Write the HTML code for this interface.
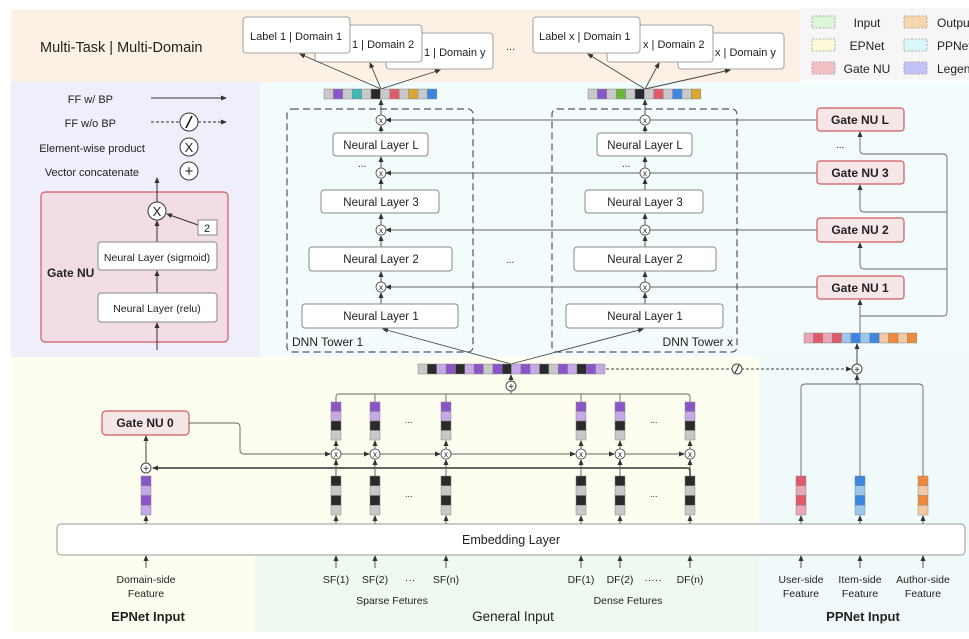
<!DOCTYPE html>
<html><head><meta charset="utf-8"><style>
body{margin:0;background:#fff}
svg{display:block}
text{font-family:"Liberation Sans",sans-serif;fill:#222}
</style></head><body>
<svg width="969" height="639" viewBox="0 0 969 639" xmlns="http://www.w3.org/2000/svg">
<defs>
<marker id="a" markerWidth="6" markerHeight="6" refX="5" refY="3" orient="auto" markerUnits="userSpaceOnUse"><path d="M0,0.5 L6,3 L0,5.5z" fill="#333"/></marker>
</defs>
<rect x="0" y="0" width="969" height="639" fill="#fff"/>
<rect x="11" y="10" width="790" height="72" fill="#fdf1e6"/>
<rect x="800" y="8" width="169" height="72" fill="#f6f6f6"/>
<rect x="11" y="82" width="249" height="275" fill="#efeffc"/>
<rect x="260" y="82" width="709" height="275" fill="#f2fcfc"/>
<rect x="759" y="357" width="210" height="275" fill="#f0fafb"/>
<rect x="11" y="357" width="748" height="275" fill="#fdfdf0"/>
<rect x="255" y="540" width="504" height="92" fill="#eefaf0"/>

<g stroke="#999" stroke-dasharray="2,1.5" stroke-width="0.8">
<rect x="812" y="16" width="23" height="12" fill="#dcf6d8"/>
<rect x="812" y="39" width="23" height="12" fill="#fbf9d6"/>
<rect x="812" y="62" width="23" height="12" fill="#f2bfc4"/>
<rect x="904" y="16" width="23" height="12" fill="#f6d7ad"/>
<rect x="904" y="39" width="23" height="12" fill="#d9f6f8"/>
<rect x="904" y="62" width="23" height="12" fill="#c2c2f6"/>
</g>
<g font-size="12">
<text x="867" y="27" text-anchor="middle">Input</text>
<text x="867" y="50" text-anchor="middle">EPNet</text>
<text x="867" y="73" text-anchor="middle">Gate NU</text>
<text x="937" y="27">Output</text>
<text x="937" y="50">PPNet</text>
<text x="937" y="73">Legend</text>
</g>

<text x="40" y="52" font-size="14.5">Multi-Task | Multi-Domain</text>

<g fill="#fff" stroke="#888" stroke-width="0.8">
<rect x="386" y="33" width="107" height="36" rx="3"/>
<rect x="315" y="25" width="107" height="37" rx="3"/>
<rect x="243" y="17" width="107" height="36" rx="3"/>
<rect x="678" y="33" width="106" height="36" rx="3"/>
<rect x="607" y="25" width="106" height="37" rx="3"/>
<rect x="533" y="17" width="107" height="36" rx="3"/>
</g>
<g font-size="11">
<text x="250" y="40">Label 1 | Domain 1</text>
<text x="352" y="48">1 | Domain 2</text>
<text x="424" y="56">1 | Domain y</text>
<text x="539" y="40">Label x | Domain 1</text>
<text x="643" y="48">x | Domain 2</text>
<text x="715" y="56">x | Domain y</text>
<text x="506" y="50">...</text>
</g>

<g font-size="11">
<text x="113" y="103" text-anchor="end">FF w/ BP</text>
<text x="116" y="127" text-anchor="end">FF w/o BP</text>
<text x="145" y="152" text-anchor="end">Element-wise product</text>
<text x="139" y="176" text-anchor="end">Vector concatenate</text>
</g>
<line x1="151" y1="98" x2="226" y2="98" stroke="#333" marker-end="url(#a)"/>
<line x1="151" y1="122" x2="180" y2="122" stroke="#333" stroke-dasharray="3,2"/>
<line x1="198" y1="122" x2="226" y2="122" stroke="#333" stroke-dasharray="3,2" marker-end="url(#a)"/>
<circle cx="189" cy="122" r="9" fill="#fff" stroke="#333"/>
<line x1="186" y1="128" x2="192" y2="116" stroke="#111" stroke-width="1.5"/>
<circle cx="189" cy="147" r="9" fill="#fff" stroke="#333"/>
<text x="189" y="152" font-size="13" text-anchor="middle">X</text>
<circle cx="189" cy="171" r="9" fill="#fff" stroke="#333"/>
<text x="189" y="176" font-size="15" text-anchor="middle">+</text>

<rect x="41" y="192" width="187" height="150" rx="4" fill="#f2dde6" stroke="#d45a5e" stroke-width="1.2"/>
<text x="47" y="277" font-size="12" font-weight="bold">Gate NU</text>
<line x1="157" y1="350" x2="157" y2="323" stroke="#333" marker-end="url(#a)"/>
<line x1="157" y1="293" x2="157" y2="271" stroke="#333" marker-end="url(#a)"/>
<line x1="157" y1="242" x2="157" y2="221" stroke="#333" marker-end="url(#a)"/>
<line x1="157" y1="202" x2="157" y2="178" stroke="#333" marker-end="url(#a)"/>
<line x1="198" y1="225" x2="167" y2="214" stroke="#333" marker-end="url(#a)"/>
<rect x="98" y="242" width="119" height="28" rx="3" fill="#fff" stroke="#888"/>
<rect x="98" y="293" width="119" height="29" rx="3" fill="#fff" stroke="#888"/>
<text x="157" y="261" font-size="10.5" text-anchor="middle">Neural Layer (sigmoid)</text>
<text x="157" y="312" font-size="10.5" text-anchor="middle">Neural Layer (relu)</text>
<circle cx="157" cy="211" r="9" fill="#fff" stroke="#333"/>
<text x="157" y="216" font-size="13" text-anchor="middle">X</text>
<rect x="198" y="220" width="19" height="15" fill="#fff" stroke="#888"/>
<text x="207" y="232" font-size="11" text-anchor="middle">2</text>

<g stroke="#666" stroke-width="0.9">
<line x1="817" y1="120" x2="386" y2="120" marker-end="url(#a)"/>
<line x1="817" y1="173" x2="386" y2="173" marker-end="url(#a)"/>
<line x1="817" y1="230" x2="386" y2="230" marker-end="url(#a)"/>
<line x1="817" y1="287" x2="386" y2="287" marker-end="url(#a)"/>
<path d="M860,337 V300" fill="none" marker-end="url(#a)"/>
<path d="M860,316 H943 Q947,316 947,312 V158 Q947,154 943,154 H864 Q860,154 860,150 V132" fill="none" marker-end="url(#a)"/>
<path d="M947,212 H864 Q860,212 860,208 V185" fill="none" marker-end="url(#a)"/>
<path d="M947,269 H864 Q860,269 860,265 V243" fill="none" marker-end="url(#a)"/>
</g>
<text x="836" y="148" font-size="10">...</text>

<g stroke="#555" stroke-width="1.2" stroke-dasharray="7,4" fill="none">
<rect x="287" y="109" width="186" height="243" rx="5"/>
<rect x="552" y="109" width="185" height="243" rx="5"/>
</g>
<g stroke="#444" stroke-width="0.9">
<line x1="381" y1="304" x2="381" y2="293" marker-end="url(#a)"/>
<line x1="381" y1="282" x2="381" y2="272" marker-end="url(#a)"/>
<line x1="381" y1="247" x2="381" y2="236" marker-end="url(#a)"/>
<line x1="381" y1="225" x2="381" y2="214" marker-end="url(#a)"/>
<line x1="381" y1="190" x2="381" y2="179" marker-end="url(#a)"/>
<line x1="381" y1="168" x2="381" y2="157" marker-end="url(#a)"/>
<line x1="381" y1="133" x2="381" y2="126" marker-end="url(#a)"/>
<line x1="381" y1="115" x2="381" y2="100" marker-end="url(#a)"/>
<line x1="645" y1="304" x2="645" y2="293" marker-end="url(#a)"/>
<line x1="645" y1="282" x2="645" y2="272" marker-end="url(#a)"/>
<line x1="645" y1="247" x2="645" y2="236" marker-end="url(#a)"/>
<line x1="645" y1="225" x2="645" y2="214" marker-end="url(#a)"/>
<line x1="645" y1="190" x2="645" y2="179" marker-end="url(#a)"/>
<line x1="645" y1="168" x2="645" y2="157" marker-end="url(#a)"/>
<line x1="645" y1="133" x2="645" y2="126" marker-end="url(#a)"/>
<line x1="645" y1="115" x2="645" y2="100" marker-end="url(#a)"/>
<line x1="381" y1="89" x2="300" y2="54" marker-end="url(#a)"/>
<line x1="381" y1="89" x2="370" y2="63" marker-end="url(#a)"/>
<line x1="381" y1="89" x2="440" y2="70" marker-end="url(#a)"/>
<line x1="645" y1="89" x2="588" y2="54" marker-end="url(#a)"/>
<line x1="645" y1="89" x2="659" y2="63" marker-end="url(#a)"/>
<line x1="645" y1="89" x2="730" y2="70" marker-end="url(#a)"/>
<line x1="511" y1="364" x2="383" y2="329" marker-end="url(#a)"/>
<line x1="511" y1="364" x2="643" y2="329" marker-end="url(#a)"/>
</g>
<g fill="#fff" stroke="#888">
<rect x="333" y="133" width="95" height="23" rx="3"/>
<rect x="321" y="190" width="118" height="23" rx="3"/>
<rect x="309" y="247" width="143" height="24" rx="3"/>
<rect x="302" y="304" width="156" height="24" rx="3"/>
<rect x="597" y="133" width="95" height="23" rx="3"/>
<rect x="585" y="190" width="118" height="23" rx="3"/>
<rect x="574" y="247" width="142" height="24" rx="3"/>
<rect x="566" y="304" width="157" height="24" rx="3"/>
</g>
<g font-size="11.5" text-anchor="middle">
<text x="381" y="149">Neural Layer L</text>
<text x="381" y="206">Neural Layer 3</text>
<text x="381" y="263">Neural Layer 2</text>
<text x="381" y="320">Neural Layer 1</text>
<text x="645" y="149">Neural Layer L</text>
<text x="645" y="206">Neural Layer 3</text>
<text x="645" y="263">Neural Layer 2</text>
<text x="645" y="320">Neural Layer 1</text>
</g>
<g font-size="10"><text x="358" y="167">...</text><text x="622" y="167">...</text><text x="506" y="263">...</text></g>
<text x="292" y="346" font-size="12">DNN Tower 1</text>
<text x="733" y="346" font-size="12" text-anchor="end">DNN Tower x</text>
<g fill="#fff" stroke="#444" stroke-width="0.8">
<circle cx="381" cy="120" r="5"/><circle cx="381" cy="173" r="5"/><circle cx="381" cy="230" r="5"/><circle cx="381" cy="287" r="5"/>
<circle cx="645" cy="120" r="5"/><circle cx="645" cy="173" r="5"/><circle cx="645" cy="230" r="5"/><circle cx="645" cy="287" r="5"/>
</g>
<g font-size="8" text-anchor="middle">
<text x="381" y="123">x</text><text x="381" y="176">x</text><text x="381" y="233">x</text><text x="381" y="290">x</text>
<text x="645" y="123">x</text><text x="645" y="176">x</text><text x="645" y="233">x</text><text x="645" y="290">x</text>
</g>

<g stroke="#888" stroke-width="0.5">
<rect x="324" y="89" width="9.4" height="10" fill="#c8c8c8"/><rect x="333.4" y="89" width="9.4" height="10" fill="#8a55c8"/><rect x="342.8" y="89" width="9.4" height="10" fill="#c8c8c8"/><rect x="352.2" y="89" width="9.4" height="10" fill="#3bb8b8"/><rect x="361.6" y="89" width="9.4" height="10" fill="#c8c8c8"/><rect x="371" y="89" width="9.4" height="10" fill="#2a2a2a"/><rect x="380.4" y="89" width="9.4" height="10" fill="#c8c8c8"/><rect x="389.8" y="89" width="9.4" height="10" fill="#e05a6a"/><rect x="399.2" y="89" width="9.4" height="10" fill="#c8c8c8"/><rect x="408.6" y="89" width="9.4" height="10" fill="#d8a832"/><rect x="418" y="89" width="9.4" height="10" fill="#c8c8c8"/><rect x="427.4" y="89" width="9.4" height="10" fill="#3a86e0"/>
<rect x="588" y="89" width="9.4" height="10" fill="#c8c8c8"/><rect x="597.4" y="89" width="9.4" height="10" fill="#8a55c8"/><rect x="606.8" y="89" width="9.4" height="10" fill="#c8c8c8"/><rect x="616.2" y="89" width="9.4" height="10" fill="#6ab83a"/><rect x="625.6" y="89" width="9.4" height="10" fill="#c8c8c8"/><rect x="635" y="89" width="9.4" height="10" fill="#2a2a2a"/><rect x="644.4" y="89" width="9.4" height="10" fill="#c8c8c8"/><rect x="653.8" y="89" width="9.4" height="10" fill="#e05a6a"/><rect x="663.2" y="89" width="9.4" height="10" fill="#c8c8c8"/><rect x="672.6" y="89" width="9.4" height="10" fill="#3a86e0"/><rect x="682" y="89" width="9.4" height="10" fill="#c8c8c8"/><rect x="691.4" y="89" width="9.4" height="10" fill="#d8a832"/>
<rect x="804" y="333" width="9.4" height="10" fill="#eaa6b4"/><rect x="813.4" y="333" width="9.4" height="10" fill="#e05a6a"/><rect x="822.8" y="333" width="9.4" height="10" fill="#eaa6b4"/><rect x="832.2" y="333" width="9.4" height="10" fill="#e05a6a"/><rect x="841.6" y="333" width="9.4" height="10" fill="#9cc6f0"/><rect x="851" y="333" width="9.4" height="10" fill="#3a86e0"/><rect x="860.4" y="333" width="9.4" height="10" fill="#9cc6f0"/><rect x="869.8" y="333" width="9.4" height="10" fill="#3a86e0"/><rect x="879.2" y="333" width="9.4" height="10" fill="#f4c8a0"/><rect x="888.6" y="333" width="9.4" height="10" fill="#ee8a3a"/><rect x="898" y="333" width="9.4" height="10" fill="#f4c8a0"/><rect x="907.4" y="333" width="9.4" height="10" fill="#ee8a3a"/>
</g>

<g fill="#f5e6e8" stroke="#d45a5e" stroke-width="1.2">
<rect x="817" y="108" width="87" height="23" rx="3"/>
<rect x="817" y="161" width="87" height="23" rx="3"/>
<rect x="817" y="218" width="87" height="24" rx="3"/>
<rect x="817" y="276" width="87" height="23" rx="3"/>
<rect x="102" y="411" width="87" height="24" rx="4"/>
</g>
<g font-size="12" font-weight="bold" text-anchor="middle">
<text x="860" y="124">Gate NU L</text>
<text x="860" y="177">Gate NU 3</text>
<text x="860" y="234">Gate NU 2</text>
<text x="860" y="292">Gate NU 1</text>
<text x="145" y="427">Gate NU 0</text>
</g>

<line x1="606" y1="369" x2="851" y2="369" stroke="#444" stroke-dasharray="3,2" marker-end="url(#a)"/>
<circle cx="737" cy="369" r="5" fill="#fff" stroke="#444"/>
<line x1="735" y1="373" x2="739" y2="365" stroke="#222"/>
<circle cx="857" cy="369" r="5" fill="#fff" stroke="#444"/>
<text x="857" y="373" font-size="10" text-anchor="middle">+</text>
<line x1="857" y1="364" x2="857" y2="344" stroke="#444" marker-end="url(#a)"/>
<g stroke="#666" fill="none" stroke-width="0.9">
<path d="M801,476 V388 Q801,384 805,384 H919 Q923,384 923,388 V476"/>
<line x1="860" y1="476" x2="860" y2="384"/>
<line x1="857" y1="384" x2="857" y2="375" stroke="#444" marker-end="url(#a)"/>
</g>
<g stroke="#888" stroke-width="0.5">
<rect x="418" y="364" width="9.35" height="10" fill="#c8c8c8"/><rect x="427.35" y="364" width="9.35" height="10" fill="#2a2a2a"/><rect x="436.7" y="364" width="9.35" height="10" fill="#c5a8e6"/><rect x="446.05" y="364" width="9.35" height="10" fill="#8a55c8"/><rect x="455.4" y="364" width="9.35" height="10" fill="#2a2a2a"/><rect x="464.75" y="364" width="9.35" height="10" fill="#c5a8e6"/><rect x="474.1" y="364" width="9.35" height="10" fill="#8a55c8"/><rect x="483.45" y="364" width="9.35" height="10" fill="#c8c8c8"/><rect x="492.8" y="364" width="9.35" height="10" fill="#8a55c8"/><rect x="502.15" y="364" width="9.35" height="10" fill="#2a2a2a"/><rect x="511.5" y="364" width="9.35" height="10" fill="#c5a8e6"/><rect x="520.85" y="364" width="9.35" height="10" fill="#8a55c8"/><rect x="530.2" y="364" width="9.35" height="10" fill="#c5a8e6"/><rect x="539.55" y="364" width="9.35" height="10" fill="#2a2a2a"/><rect x="548.9" y="364" width="9.35" height="10" fill="#c8c8c8"/><rect x="558.25" y="364" width="9.35" height="10" fill="#8a55c8"/><rect x="567.6" y="364" width="9.35" height="10" fill="#c5a8e6"/><rect x="576.95" y="364" width="9.35" height="10" fill="#2a2a2a"/><rect x="586.3" y="364" width="9.35" height="10" fill="#8a55c8"/><rect x="595.65" y="364" width="9.35" height="10" fill="#c5a8e6"/>
</g>

<g stroke="#666" stroke-width="0.9" fill="none">
<path d="M336,402 V397 Q336,394 339,394 H687 Q690,394 690,397 V402"/>
<line x1="375" y1="394" x2="375" y2="402"/><line x1="446" y1="394" x2="446" y2="402"/>
<line x1="581" y1="394" x2="581" y2="402"/><line x1="620" y1="394" x2="620" y2="402"/>
<line x1="511" y1="394" x2="511" y2="391"/>
<line x1="511" y1="381" x2="511" y2="375" stroke="#444" marker-end="url(#a)"/>
<path d="M189,423 H236 Q240,423 240,427 V450 Q240,454 244,454 H330" marker-end="url(#a)"/>
<line x1="341" y1="454" x2="369" y2="454" marker-end="url(#a)"/>
<line x1="380" y1="454" x2="440" y2="454" marker-end="url(#a)"/>
<line x1="451" y1="454" x2="575" y2="454" marker-end="url(#a)"/>
<line x1="586" y1="454" x2="614" y2="454" marker-end="url(#a)"/>
<line x1="625" y1="454" x2="684" y2="454" marker-end="url(#a)"/>
</g>
<path d="M690,476 V471 Q690,468 687,468 H153" stroke="#333" stroke-width="1.6" fill="none" marker-end="url(#a)"/>
<line x1="146" y1="463" x2="146" y2="436" stroke="#444" marker-end="url(#a)"/>
<circle cx="511" cy="386" r="5" fill="#fff" stroke="#444"/>
<text x="511" y="390" font-size="10" text-anchor="middle">+</text>
<circle cx="146" cy="468" r="5" fill="#fff" stroke="#444"/>
<text x="146" y="472" font-size="10" text-anchor="middle">+</text>

<g stroke="#888" stroke-width="0.5">
<rect x="331" y="402" width="10" height="9.5" fill="#8a55c8"/><rect x="331" y="411.5" width="10" height="9.5" fill="#c5a8e6"/><rect x="331" y="421" width="10" height="9.5" fill="#2a2a2a"/><rect x="331" y="430.5" width="10" height="9.5" fill="#c8c8c8"/>
<rect x="370" y="402" width="10" height="9.5" fill="#8a55c8"/><rect x="370" y="411.5" width="10" height="9.5" fill="#c5a8e6"/><rect x="370" y="421" width="10" height="9.5" fill="#2a2a2a"/><rect x="370" y="430.5" width="10" height="9.5" fill="#c8c8c8"/>
<rect x="441" y="402" width="10" height="9.5" fill="#8a55c8"/><rect x="441" y="411.5" width="10" height="9.5" fill="#c5a8e6"/><rect x="441" y="421" width="10" height="9.5" fill="#2a2a2a"/><rect x="441" y="430.5" width="10" height="9.5" fill="#c8c8c8"/>
<rect x="576" y="402" width="10" height="9.5" fill="#8a55c8"/><rect x="576" y="411.5" width="10" height="9.5" fill="#c5a8e6"/><rect x="576" y="421" width="10" height="9.5" fill="#2a2a2a"/><rect x="576" y="430.5" width="10" height="9.5" fill="#c8c8c8"/>
<rect x="615" y="402" width="10" height="9.5" fill="#8a55c8"/><rect x="615" y="411.5" width="10" height="9.5" fill="#c5a8e6"/><rect x="615" y="421" width="10" height="9.5" fill="#2a2a2a"/><rect x="615" y="430.5" width="10" height="9.5" fill="#c8c8c8"/>
<rect x="685" y="402" width="10" height="9.5" fill="#8a55c8"/><rect x="685" y="411.5" width="10" height="9.5" fill="#c5a8e6"/><rect x="685" y="421" width="10" height="9.5" fill="#2a2a2a"/><rect x="685" y="430.5" width="10" height="9.5" fill="#c8c8c8"/>
<rect x="331" y="476" width="10" height="9.75" fill="#2a2a2a"/><rect x="331" y="485.75" width="10" height="9.75" fill="#c8c8c8"/><rect x="331" y="495.5" width="10" height="9.75" fill="#2a2a2a"/><rect x="331" y="505.25" width="10" height="9.75" fill="#c8c8c8"/>
<rect x="370" y="476" width="10" height="9.75" fill="#2a2a2a"/><rect x="370" y="485.75" width="10" height="9.75" fill="#c8c8c8"/><rect x="370" y="495.5" width="10" height="9.75" fill="#2a2a2a"/><rect x="370" y="505.25" width="10" height="9.75" fill="#c8c8c8"/>
<rect x="441" y="476" width="10" height="9.75" fill="#2a2a2a"/><rect x="441" y="485.75" width="10" height="9.75" fill="#c8c8c8"/><rect x="441" y="495.5" width="10" height="9.75" fill="#2a2a2a"/><rect x="441" y="505.25" width="10" height="9.75" fill="#c8c8c8"/>
<rect x="576" y="476" width="10" height="9.75" fill="#2a2a2a"/><rect x="576" y="485.75" width="10" height="9.75" fill="#c8c8c8"/><rect x="576" y="495.5" width="10" height="9.75" fill="#2a2a2a"/><rect x="576" y="505.25" width="10" height="9.75" fill="#c8c8c8"/>
<rect x="615" y="476" width="10" height="9.75" fill="#2a2a2a"/><rect x="615" y="485.75" width="10" height="9.75" fill="#c8c8c8"/><rect x="615" y="495.5" width="10" height="9.75" fill="#2a2a2a"/><rect x="615" y="505.25" width="10" height="9.75" fill="#c8c8c8"/>
<rect x="685" y="476" width="10" height="9.75" fill="#2a2a2a"/><rect x="685" y="485.75" width="10" height="9.75" fill="#c8c8c8"/><rect x="685" y="495.5" width="10" height="9.75" fill="#2a2a2a"/><rect x="685" y="505.25" width="10" height="9.75" fill="#c8c8c8"/>
<rect x="141" y="476" width="10" height="9.75" fill="#8a55c8"/><rect x="141" y="485.75" width="10" height="9.75" fill="#c5a8e6"/><rect x="141" y="495.5" width="10" height="9.75" fill="#8a55c8"/><rect x="141" y="505.25" width="10" height="9.75" fill="#c5a8e6"/>
<rect x="796" y="476" width="10" height="9.75" fill="#e05a6a"/><rect x="796" y="485.75" width="10" height="9.75" fill="#eaa6b4"/><rect x="796" y="495.5" width="10" height="9.75" fill="#e05a6a"/><rect x="796" y="505.25" width="10" height="9.75" fill="#eaa6b4"/>
<rect x="855" y="476" width="10" height="9.75" fill="#3a86e0"/><rect x="855" y="485.75" width="10" height="9.75" fill="#9cc6f0"/><rect x="855" y="495.5" width="10" height="9.75" fill="#3a86e0"/><rect x="855" y="505.25" width="10" height="9.75" fill="#9cc6f0"/>
<rect x="918" y="476" width="10" height="9.75" fill="#ee8a3a"/><rect x="918" y="485.75" width="10" height="9.75" fill="#f4c8a0"/><rect x="918" y="495.5" width="10" height="9.75" fill="#ee8a3a"/><rect x="918" y="505.25" width="10" height="9.75" fill="#f4c8a0"/>
</g>
<g stroke="#555" stroke-width="0.9">
<line x1="336" y1="476" x2="336" y2="460" marker-end="url(#a)"/><line x1="375" y1="476" x2="375" y2="460" marker-end="url(#a)"/><line x1="446" y1="476" x2="446" y2="460" marker-end="url(#a)"/>
<line x1="581" y1="476" x2="581" y2="460" marker-end="url(#a)"/><line x1="620" y1="476" x2="620" y2="460" marker-end="url(#a)"/><line x1="690" y1="476" x2="690" y2="460" marker-end="url(#a)"/>
<line x1="336" y1="449" x2="336" y2="441" marker-end="url(#a)"/><line x1="375" y1="449" x2="375" y2="441" marker-end="url(#a)"/><line x1="446" y1="449" x2="446" y2="441" marker-end="url(#a)"/>
<line x1="581" y1="449" x2="581" y2="441" marker-end="url(#a)"/><line x1="620" y1="449" x2="620" y2="441" marker-end="url(#a)"/><line x1="690" y1="449" x2="690" y2="441" marker-end="url(#a)"/>
</g>
<g fill="#fff" stroke="#444" stroke-width="0.8">
<circle cx="336" cy="454" r="5"/><circle cx="375" cy="454" r="5"/><circle cx="446" cy="454" r="5"/><circle cx="581" cy="454" r="5"/><circle cx="620" cy="454" r="5"/><circle cx="690" cy="454" r="5"/>
</g>
<g font-size="8" text-anchor="middle">
<text x="336" y="457">x</text><text x="375" y="457">x</text><text x="446" y="457">x</text><text x="581" y="457">x</text><text x="620" y="457">x</text><text x="690" y="457">x</text>
</g>
<g font-size="9"><text x="405" y="423">...</text><text x="650" y="423">...</text><text x="405" y="497">...</text><text x="650" y="497">...</text></g>

<g stroke="#444" stroke-width="0.9">
<line x1="146" y1="524" x2="146" y2="516" marker-end="url(#a)"/>
<line x1="336" y1="524" x2="336" y2="516" marker-end="url(#a)"/><line x1="375" y1="524" x2="375" y2="516" marker-end="url(#a)"/><line x1="446" y1="524" x2="446" y2="516" marker-end="url(#a)"/>
<line x1="581" y1="524" x2="581" y2="516" marker-end="url(#a)"/><line x1="620" y1="524" x2="620" y2="516" marker-end="url(#a)"/><line x1="690" y1="524" x2="690" y2="516" marker-end="url(#a)"/>
<line x1="801" y1="524" x2="801" y2="516" marker-end="url(#a)"/><line x1="860" y1="524" x2="860" y2="516" marker-end="url(#a)"/><line x1="923" y1="524" x2="923" y2="516" marker-end="url(#a)"/>
<line x1="146" y1="568" x2="146" y2="556" marker-end="url(#a)"/>
<line x1="336" y1="568" x2="336" y2="556" marker-end="url(#a)"/><line x1="375" y1="568" x2="375" y2="556" marker-end="url(#a)"/><line x1="446" y1="568" x2="446" y2="556" marker-end="url(#a)"/>
<line x1="581" y1="568" x2="581" y2="556" marker-end="url(#a)"/><line x1="620" y1="568" x2="620" y2="556" marker-end="url(#a)"/><line x1="690" y1="568" x2="690" y2="556" marker-end="url(#a)"/>
<line x1="801" y1="568" x2="801" y2="556" marker-end="url(#a)"/><line x1="860" y1="568" x2="860" y2="556" marker-end="url(#a)"/><line x1="923" y1="568" x2="923" y2="556" marker-end="url(#a)"/>
</g>
<rect x="57" y="524" width="908" height="31" rx="4" fill="#fff" stroke="#999"/>
<text x="511" y="544" font-size="12.5" text-anchor="middle">Embedding Layer</text>

<g font-size="10.5" text-anchor="middle">
<text x="146" y="583">Domain-side</text><text x="146" y="597">Feature</text>
<text x="336" y="583">SF(1)</text><text x="375" y="583">SF(2)</text><text x="410" y="583">···</text><text x="446" y="583">SF(n)</text>
<text x="581" y="583">DF(1)</text><text x="620" y="583">DF(2)</text><text x="653" y="583">·····</text><text x="690" y="583">DF(n)</text>
<text x="392" y="604">Sparse Fetures</text><text x="628" y="604">Dense Fetures</text>
<text x="801" y="583">User-side</text><text x="801" y="597">Feature</text>
<text x="860" y="583">Item-side</text><text x="860" y="597">Feature</text>
<text x="923" y="583">Author-side</text><text x="923" y="597">Feature</text>
</g>
<text x="148" y="621" font-size="13" font-weight="bold" text-anchor="middle">EPNet Input</text>
<text x="513" y="621" font-size="13.5" text-anchor="middle">General Input</text>
<text x="863" y="621" font-size="13" font-weight="bold" text-anchor="middle">PPNet Input</text>
</svg>
</body></html>
